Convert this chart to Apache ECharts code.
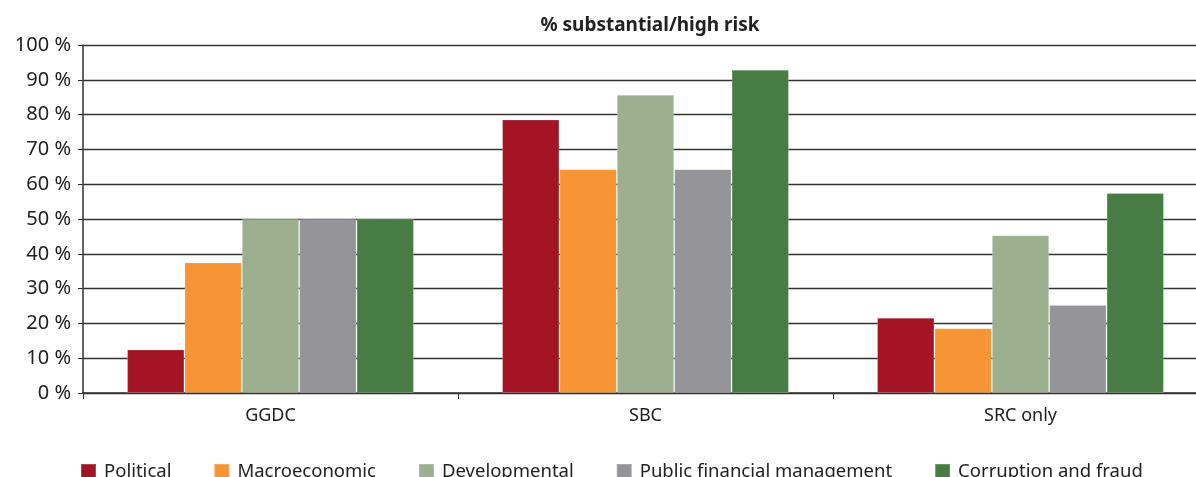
<!DOCTYPE html>
<html>
<head>
<meta charset="utf-8">
<script src="https://cdn.jsdelivr.net/npm/echarts@6/dist/echarts.min.js"></script>
<style>
  html, body { margin: 0; padding: 0; background: #fff; }
  #main { width: 1196px; height: 477px; }
</style>
</head>
<body>
<div id="main"></div>
<script>
// data
var categories = ['GGDC', 'SBC', 'SRC only'];
var seriesNames = ['Political', 'Macroeconomic', 'Developmental', 'Public financial management', 'Corruption and fraud'];
var political = [12.5, 78.6, 21.6];
var macroeconomic = [37.5, 64.3, 18.6];
var developmental = [50, 85.7, 45.3];
var publicFinance = [50, 64.3, 25.3];
var corruption = [50, 92.9, 57.5];
var colors = ['#a31525', '#f79433', '#9caf8f', '#959599', '#477d44'];

var values = [political, macroeconomic, developmental, publicFinance, corruption];

var font = 'Noto Sans';

var option = {
    animation: false,
    color: colors,
    textStyle: { fontFamily: font },
    title: {
        text: '% substantial/high risk',
        left: 645,
        textAlign: 'center',
        top: 11,
        textStyle: {
            fontFamily: font,
            fontSize: 19,
            fontWeight: 'bold',
            color: '#222'
        }
    },
    legend: {
        data: seriesNames,
        left: 75,
        top: 457,
        itemWidth: 15,
        itemHeight: 15,
        itemGap: 42,
        icon: 'rect',
        textStyle: {
            fontFamily: font,
            fontSize: 18.5,
            color: '#222',
            padding: [0, 0, 0, 3]
        }
    },
    grid: {
        left: 83,
        width: 1125,
        top: 45,
        bottom: 84,
        outerBoundsMode: 'none'
    },
    xAxis: {
        type: 'category',
        data: categories,
        axisLine: { lineStyle: { color: '#333', width: 1.5 } },
        axisTick: { show: true, length: 6, lineStyle: { color: '#333' } },
        axisLabel: {
            fontFamily: font,
            fontSize: 18,
            color: '#222',
            margin: 14
        }
    },
    yAxis: {
        type: 'value',
        min: 0,
        max: 100,
        interval: 10,
        axisLine: { show: true, lineStyle: { color: '#333', width: 1.5 } },
        axisTick: { show: true, length: 5, lineStyle: { color: '#333' } },
        splitLine: { lineStyle: { color: '#333', width: 1.3 } },
        axisLabel: {
            formatter: '{value} %',
            fontFamily: font,
            fontSize: 20,
            color: '#222',
            margin: 12
        }
    },
    series: seriesNames.map(function (name, i) {
        return {
            name: name,
            type: 'bar',
            data: values[i],
            barGap: '0%',
            barCategoryGap: '23.5%',
            itemStyle: {
                borderColor: 'rgba(255,255,255,0.2)',
                borderWidth: 1
            }
        };
    })
};

var chart = echarts.init(document.getElementById('main'));
chart.setOption(option);
</script>
</body>
</html>
